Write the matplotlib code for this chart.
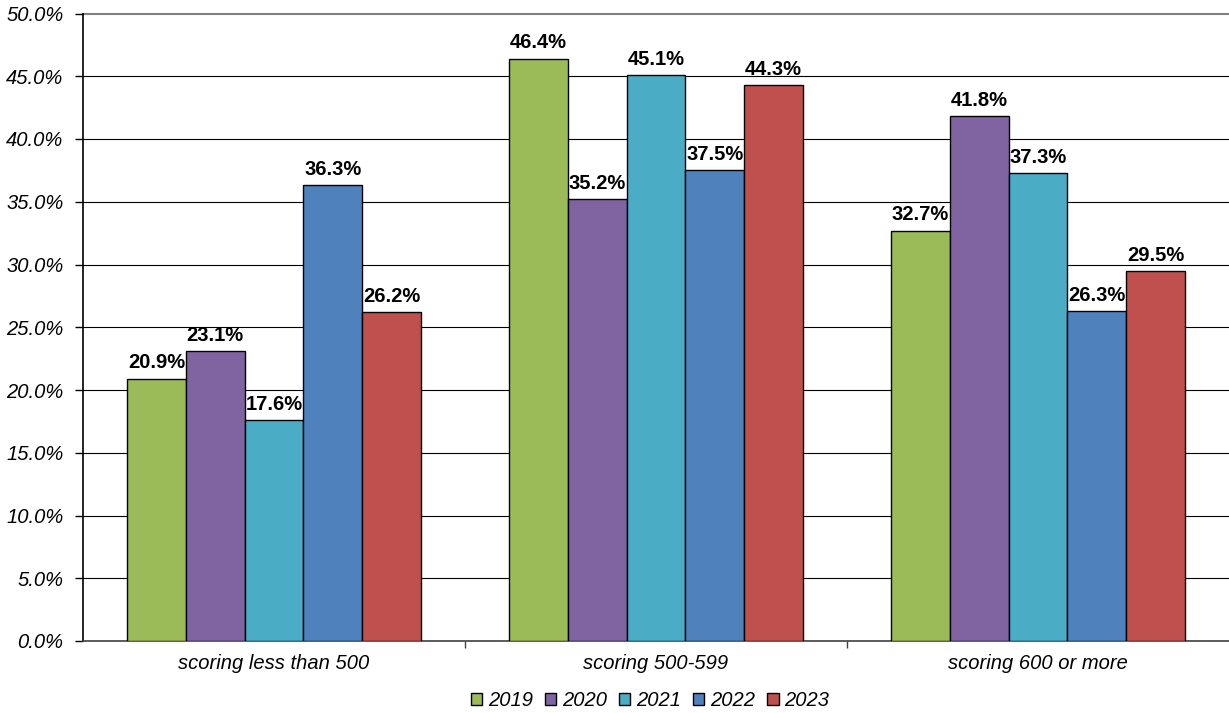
import matplotlib
matplotlib.use("Agg")
import matplotlib.pyplot as plt
import numpy as np

categories = ["scoring less than 500", "scoring 500-599", "scoring 600 or more"]
years = ["2019", "2020", "2021", "2022", "2023"]
values = {
    "2019": [20.9, 46.4, 32.7],
    "2020": [23.1, 35.2, 41.8],
    "2021": [17.6, 45.1, 37.3],
    "2022": [36.3, 37.5, 26.3],
    "2023": [26.2, 44.3, 29.5],
}
colors = ["#9BBB59", "#8064A2", "#4BACC6", "#4F81BD", "#C0504D"]

plt.rcParams['font.family'] = ['Liberation Sans', 'DejaVu Sans']

fig = plt.figure(figsize=(12.29, 7.13), dpi=100)
W, H = 1229, 713
ax = fig.add_axes([83 / W, (H - 641) / H, (W - 83) / W, (641 - 13.5) / H])

FS = 14.5
x = np.arange(len(categories))
bw = 0.154
for i, (yr, c) in enumerate(zip(years, colors)):
    pos = x + (i - 2) * bw
    ax.bar(pos, values[yr], width=bw, color=c, edgecolor="black", linewidth=1.0,
           label=yr, zorder=3)
    for p, v in zip(pos, values[yr]):
        ax.annotate(f"{v:.1f}%", (p, v), xytext=(0, 4.5), textcoords="offset points",
                    ha="center", va="bottom", fontsize=FS, fontweight="bold", zorder=4)

ax.set_xlim(-0.5, 2.5)
ax.set_ylim(0, 50)
yt = np.arange(0, 55, 5)
ax.set_yticks(yt)
ax.set_yticklabels([f"{t:.1f}%" for t in yt], fontsize=FS, style="italic")
for t in yt[1:-1]:
    ax.axhline(t, color="black", linewidth=0.8, zorder=1)
ax.axhline(50, color="#808080", linewidth=1.5, zorder=1, clip_on=False)

ax.set_xticks([0.5, 1.5])
ax.set_xticklabels([])
ax.set_xticks(x, minor=True)
ax.set_xticklabels(categories, minor=True, fontsize=FS, style="italic")
ax.tick_params(axis="x", which="minor", length=0, pad=9.5)
ax.tick_params(axis="x", which="major", length=5, width=1, color="#404040")
ax.tick_params(axis="y", length=6, width=1, pad=8)

for s in ["top", "right"]:
    ax.spines[s].set_visible(False)
ax.spines["left"].set_linewidth(1.2)
ax.spines["bottom"].set_linewidth(1.2)
ax.spines["bottom"].set_color("#404040")

leg = fig.legend(loc="lower center", bbox_to_anchor=(0.529, -0.021), ncol=5, frameon=False,
                 prop={"size": FS, "style": "italic"}, handlelength=0.55, handleheight=0.55,
                 handletextpad=0.3, columnspacing=0.6)
for h in leg.legend_handles:
    h.set_linewidth(1.0)

fig.savefig("out.png", dpi=100)
